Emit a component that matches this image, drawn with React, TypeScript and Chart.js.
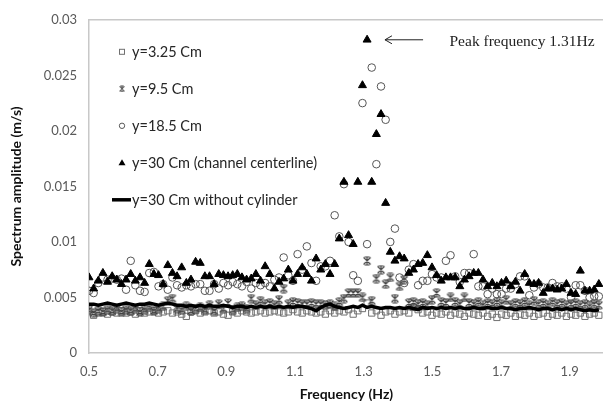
import React, { useEffect, useRef } from "react";
import { Chart, registerables } from "chart.js";

Chart.register(...registerables);

const frequencies = [
  0.5, 0.5135, 0.527, 0.5405, 0.554, 0.5675, 0.581, 0.5945, 0.608, 0.6215,
  0.635, 0.6485, 0.662, 0.6755, 0.689, 0.7025, 0.716, 0.7295, 0.743, 0.7565,
  0.77, 0.7835, 0.797, 0.8105, 0.824, 0.8375, 0.851, 0.8645, 0.878, 0.8915,
  0.905, 0.9185, 0.932, 0.9455, 0.959, 0.9725, 0.986, 0.9995, 1.013, 1.0265,
  1.04, 1.0535, 1.067, 1.0805, 1.094, 1.1075, 1.121, 1.1345, 1.148, 1.1615,
  1.175, 1.1885, 1.202, 1.2155, 1.229, 1.2425, 1.256, 1.2695, 1.283, 1.2965,
  1.31, 1.3235, 1.337, 1.3505, 1.364, 1.3775, 1.391, 1.4045, 1.418, 1.4315,
  1.445, 1.4585, 1.472, 1.4855, 1.499, 1.5125, 1.526, 1.5395, 1.553, 1.5665,
  1.58, 1.5935, 1.607, 1.6205, 1.634, 1.6475, 1.661, 1.6745, 1.688, 1.7015,
  1.715, 1.7285, 1.742, 1.7555, 1.769, 1.7825, 1.796, 1.8095, 1.823, 1.8365,
  1.85, 1.8635, 1.877, 1.8905, 1.904, 1.9175, 1.931, 1.9445, 1.958, 1.9715,
  1.985,
];

const ampY325 = [
  0.0037, 0.0034, 0.0036, 0.0037, 0.0035, 0.0037, 0.0036, 0.0038, 0.0036, 0.0037,
  0.0035, 0.0038, 0.0036, 0.0037, 0.0038, 0.0036, 0.0037, 0.0038, 0.0036, 0.0037,
  0.0035, 0.0033, 0.0037, 0.0038, 0.0036, 0.0037, 0.0038, 0.0036, 0.0037, 0.0035,
  0.0034, 0.0037, 0.0036, 0.0038, 0.0037, 0.0036, 0.0037, 0.0038, 0.0036, 0.0037,
  0.0038, 0.0037, 0.0036, 0.0037, 0.0039, 0.0037, 0.0036, 0.0038, 0.0037, 0.0036,
  0.0037, 0.0035, 0.0038, 0.0036, 0.0038, 0.0037, 0.0039, 0.0035, 0.0038, 0.004,
  0.0045, 0.0036, 0.0038, 0.0034, 0.0037, 0.0038, 0.0035, 0.0037, 0.0038, 0.0036,
  0.0041, 0.0039, 0.0036, 0.0037, 0.0034, 0.0036, 0.0035, 0.0037, 0.0034, 0.0036,
  0.0035, 0.0033, 0.0036, 0.0035, 0.0034, 0.0036, 0.0033, 0.0035, 0.0032, 0.0035,
  0.0034, 0.0036, 0.0033, 0.0035, 0.0034, 0.0036, 0.0033, 0.0035, 0.0036, 0.0033,
  0.0035, 0.0034, 0.0036, 0.0033, 0.0035, 0.0034, 0.0036, 0.0033, 0.0035, 0.0036,
  0.0034,
];

const ampY95 = [
  0.0039, 0.0036, 0.0038, 0.0037, 0.0039, 0.0038, 0.004, 0.0037, 0.0039, 0.0038,
  0.004, 0.0037, 0.0039, 0.0041, 0.0038, 0.004, 0.0042, 0.0047, 0.0049, 0.004,
  0.0039, 0.0042, 0.0038, 0.004, 0.0041, 0.0039, 0.0043, 0.0038, 0.0044, 0.004,
  0.0045, 0.0039, 0.0041, 0.0042, 0.004, 0.0049, 0.0043, 0.0047, 0.0044, 0.0045,
  0.0043, 0.0048, 0.0058, 0.0044, 0.0046, 0.0045, 0.0044, 0.0044, 0.0045, 0.0044,
  0.0044, 0.0043, 0.0044, 0.0042, 0.0046, 0.0049, 0.0054, 0.0054, 0.0054, 0.005,
  0.0083, 0.0047, 0.0067, 0.0075, 0.0062, 0.0068, 0.0049, 0.006, 0.0066, 0.0045,
  0.0046, 0.0044, 0.0045, 0.0043, 0.0048, 0.0054, 0.0046, 0.0045, 0.005, 0.0046,
  0.0044, 0.005, 0.0045, 0.0044, 0.0046, 0.0043, 0.0045, 0.0044, 0.0046, 0.0044,
  0.0048, 0.0043, 0.0045, 0.0044, 0.0046, 0.0043, 0.0047, 0.0044, 0.0045, 0.0043,
  0.0046, 0.0044, 0.0045, 0.0043, 0.0044, 0.0045, 0.0043, 0.0044, 0.0042, 0.0044,
  0.0043,
];

const ampY185 = [
  0.0056, 0.0054, 0.0063, 0.0068, 0.0066, 0.0067, 0.0066, 0.0067, 0.0057, 0.0083,
  0.0061, 0.0056, 0.0055, 0.0072, 0.0073, 0.006, 0.0062, 0.0057, 0.0068, 0.0061,
  0.0059, 0.0061, 0.006, 0.0062, 0.0062, 0.0056, 0.0056, 0.0062, 0.0058, 0.0063,
  0.0061, 0.0064, 0.0062, 0.006, 0.0064, 0.0058, 0.0063, 0.0061, 0.0063, 0.006,
  0.0066, 0.0068, 0.0086, 0.007, 0.0065, 0.0089, 0.0075, 0.0096, 0.0081, 0.0065,
  0.0078, 0.0078, 0.0083, 0.0124, 0.0105, 0.0152, 0.01, 0.007, 0.0065, 0.0225,
  0.0098, 0.0257, 0.017, 0.024, 0.021, 0.01, 0.0112, 0.0068, 0.0063, 0.0075,
  0.008, 0.0061, 0.0065, 0.0065, 0.0071, 0.0068, 0.0068, 0.0083, 0.0088, 0.0069,
  0.0064, 0.0072, 0.0072, 0.0089, 0.006, 0.006, 0.0053, 0.0058, 0.0053, 0.0053,
  0.0058, 0.0058, 0.0062, 0.0069, 0.0069, 0.0052, 0.0059, 0.0062, 0.0059, 0.0059,
  0.0063, 0.006, 0.006, 0.0058, 0.005, 0.0061, 0.0061, 0.0056, 0.005, 0.0051,
  0.0051,
];

const ampY30 = [
  0.0068, 0.0058, 0.0065, 0.0072, 0.0064, 0.0069, 0.0066, 0.0062, 0.0066, 0.0071,
  0.0065, 0.0068, 0.0063, 0.008, 0.0071, 0.007, 0.0062, 0.0079, 0.0072, 0.0069,
  0.0077, 0.0063, 0.0066, 0.0082, 0.0081, 0.0069, 0.0069, 0.0062, 0.0071, 0.007,
  0.0069, 0.007, 0.0071, 0.0068, 0.0066, 0.0067, 0.0071, 0.0065, 0.0078, 0.0071,
  0.0058, 0.0064, 0.0067, 0.0075, 0.0065, 0.0071, 0.0077, 0.0071, 0.0065, 0.0085,
  0.0075, 0.008, 0.0071, 0.008, 0.0103, 0.0154, 0.0106, 0.0098, 0.0154, 0.0241,
  0.0282, 0.0154, 0.0197, 0.0215, 0.0135, 0.0091, 0.0083, 0.0087, 0.0085, 0.0072,
  0.0075, 0.008, 0.0081, 0.0088, 0.0077, 0.007, 0.0065, 0.0068, 0.0068, 0.0068,
  0.006, 0.0066, 0.0069, 0.0072, 0.0072, 0.0066, 0.006, 0.0063, 0.006, 0.0063,
  0.0065, 0.006, 0.0064, 0.0056, 0.0071, 0.0063, 0.0062, 0.0063, 0.0054, 0.0058,
  0.0058, 0.0057, 0.0058, 0.0062, 0.0054, 0.0053, 0.0074, 0.0056, 0.0056, 0.0057,
  0.0062,
];

const ampY30NoCylinder = [
  0.0044, 0.0044, 0.0043, 0.0044, 0.0045, 0.0044, 0.0043, 0.0044, 0.0045, 0.0044,
  0.0043, 0.0044, 0.0044, 0.0045, 0.0044, 0.0043, 0.0044, 0.0045, 0.0044, 0.0043,
  0.0043, 0.0042, 0.0043, 0.0042, 0.0043, 0.0042, 0.0043, 0.0042, 0.0042, 0.0043,
  0.0042, 0.0041, 0.0042, 0.0042, 0.0041, 0.0042, 0.0041, 0.0042, 0.0041, 0.0042,
  0.0041, 0.0042, 0.0041, 0.0042, 0.0041, 0.0042, 0.0042, 0.0041, 0.004, 0.0038,
  0.0041, 0.0043, 0.0044, 0.0042, 0.0041, 0.004, 0.0041, 0.0042, 0.0041, 0.0043,
  0.0041, 0.0042, 0.0041, 0.004, 0.0041, 0.0041, 0.004, 0.0041, 0.004, 0.0041,
  0.004, 0.0039, 0.0041, 0.004, 0.0041, 0.004, 0.0041, 0.004, 0.0041, 0.004,
  0.0041, 0.004, 0.004, 0.0041, 0.004, 0.004, 0.0041, 0.004, 0.004, 0.0041,
  0.004, 0.004, 0.0039, 0.004, 0.004, 0.0041, 0.004, 0.0039, 0.004, 0.004,
  0.0039, 0.004, 0.0039, 0.004, 0.0039, 0.004, 0.0039, 0.0038, 0.0039, 0.0038,
  0.0039,
];

const seriesLabels = [
  "y=3.25 Cm",
  "y=9.5 Cm",
  "y=18.5 Cm",
  "y=30 Cm (channel centerline)",
  "y=30 Cm without cylinder",
];

const xTickValues = [0.5, 0.7, 0.9, 1.1, 1.3, 1.5, 1.7, 1.9];
const xTickLabels = ["0.5", "0.7", "0.9", "1.1", "1.3", "1.5", "1.7", "1.9"];
const yTickValues = [0, 0.005, 0.01, 0.015, 0.02, 0.025, 0.03];
const yTickLabels = ["0", "0.005", "0.01", "0.015", "0.02", "0.025", "0.03"];

const xAxisTitle = "Frequency (Hz)";
const yAxisTitle = "Spectrum amplitude (m/s)";
const peakText = "Peak frequency 1.31Hz";
const peakAmplitude = 0.0282;

// annotation placement (in data units)
const arrowTipFreq = 1.362;
const arrowTailFreq = 1.473;
const peakTextFreq = 1.55;

const FONT = "Lato, 'Open Sans', sans-serif";

function makeStar(color: string) {
  const c = document.createElement("canvas");
  c.width = 10;
  c.height = 10;
  const g = c.getContext("2d")!;
  g.strokeStyle = color;
  g.lineWidth = 1.1;
  g.beginPath();
  g.moveTo(1.5, 1.5);
  g.lineTo(8.5, 8.5);
  g.moveTo(8.5, 1.5);
  g.lineTo(1.5, 8.5);
  g.moveTo(5, 1);
  g.lineTo(5, 9);
  g.moveTo(2.5, 1);
  g.lineTo(7.5, 1);
  g.moveTo(2.5, 9);
  g.lineTo(7.5, 9);
  g.stroke();
  return c;
}

function drawLegendMarker(ctx: CanvasRenderingContext2D, i: number, x: number, y: number, star: HTMLCanvasElement) {
  ctx.save();
  ctx.lineWidth = 1;
  if (i === 0) {
    ctx.strokeStyle = "#707070";
    ctx.strokeRect(x - 2.5, y - 2.5, 5, 5);
  } else if (i === 1) {
    ctx.drawImage(star, x - 3.5, y - 3.5, 7, 7);
  } else if (i === 2) {
    ctx.strokeStyle = "#5a5a5a";
    ctx.beginPath();
    ctx.arc(x, y, 2.7, 0, Math.PI * 2);
    ctx.stroke();
  } else if (i === 3) {
    ctx.fillStyle = "#000";
    ctx.beginPath();
    ctx.moveTo(x, y - 3.5);
    ctx.lineTo(x + 3.5, y + 2.5);
    ctx.lineTo(x - 3.5, y + 2.5);
    ctx.closePath();
    ctx.fill();
  } else {
    ctx.strokeStyle = "#000";
    ctx.lineWidth = 3.5;
    ctx.beginPath();
    ctx.moveTo(x - 10, y);
    ctx.lineTo(x + 9, y);
    ctx.stroke();
  }
  ctx.restore();
}

export default function App() {
  const canvasRef = useRef<HTMLCanvasElement | null>(null);

  useEffect(() => {
    document.body.style.margin = "0";
    const canvas = canvasRef.current;
    if (!canvas) return;
    const star = makeStar("#404040");

    const framePlugin = {
      id: "frameTop",
      beforeDatasetsDraw(chart: any) {
        const { ctx, chartArea } = chart;
        ctx.save();
        ctx.strokeStyle = "#c8c8c8";
        ctx.lineWidth = 1.5;
        ctx.beginPath();
        ctx.moveTo(chartArea.left, chartArea.top);
        ctx.lineTo(chartArea.right, chartArea.top);
        ctx.stroke();
        ctx.restore();
      },
    };

    const legendPlugin = {
      id: "insideLegend",
      afterDraw(chart: any) {
        const { ctx, chartArea } = chart;
        ctx.save();
        ctx.font = `14.5px ${FONT}`;
        ctx.fillStyle = "#262626";
        ctx.textBaseline = "middle";
        ctx.textAlign = "left";
        seriesLabels.forEach((label, i) => {
          const y = chartArea.top + 32 + i * 37;
          const mx = chartArea.left + 33;
          drawLegendMarker(ctx, i, mx, y, star);
          ctx.fillText(label, chartArea.left + 43, y + 1);
        });
        ctx.restore();
      },
    };

    const annotationPlugin = {
      id: "peakAnnotation",
      afterDraw(chart: any) {
        const { ctx } = chart;
        const xs = chart.scales.x;
        const ys = chart.scales.y;
        const y = ys.getPixelForValue(peakAmplitude);
        const tip = xs.getPixelForValue(arrowTipFreq);
        const tail = xs.getPixelForValue(arrowTailFreq);
        ctx.save();
        ctx.strokeStyle = "#222";
        ctx.lineWidth = 1;
        ctx.beginPath();
        ctx.moveTo(tail, y);
        ctx.lineTo(tip, y);
        ctx.moveTo(tip + 7, y - 4);
        ctx.lineTo(tip, y);
        ctx.lineTo(tip + 7, y + 4);
        ctx.stroke();
        ctx.font = "15.5px 'Liberation Serif', 'DejaVu Serif', serif";
        ctx.fillStyle = "#222";
        ctx.textBaseline = "middle";
        ctx.textAlign = "left";
        ctx.fillText(peakText, xs.getPixelForValue(peakTextFreq), y + 2);
        ctx.restore();
      },
    };

    const toPoints = (vals: number[]) => frequencies.map((f, i) => ({ x: f, y: vals[i] }));

    const chart = new Chart(canvas, {
      type: "scatter",
      data: {
        datasets: [
          {
            label: seriesLabels[0],
            data: toPoints(ampY325),
            pointStyle: "rect",
            pointRadius: 4.4,
            borderColor: "#707070",
            backgroundColor: "rgba(255,255,255,0)",
            borderWidth: 1,
            order: 4,
          },
          {
            label: seriesLabels[1],
            data: toPoints(ampY95),
            pointStyle: star as any,
            pointRadius: 5,
            borderColor: "#404040",
            backgroundColor: "rgba(255,255,255,0)",
            borderWidth: 1,
            order: 3,
          },
          {
            label: seriesLabels[2],
            data: toPoints(ampY185),
            pointStyle: "circle",
            pointRadius: 3.8,
            borderColor: "#555555",
            backgroundColor: "rgba(255,255,255,0)",
            borderWidth: 1,
            order: 2,
          },
          {
            label: seriesLabels[3],
            data: toPoints(ampY30),
            pointStyle: "triangle",
            pointRadius: 4.6,
            borderColor: "#000",
            backgroundColor: "#000",
            borderWidth: 1,
            order: 1,
          },
          {
            label: seriesLabels[4],
            data: toPoints(ampY30NoCylinder),
            showLine: true,
            pointRadius: 0,
            borderColor: "#000",
            backgroundColor: "#000",
            borderWidth: 3.5,
            tension: 0,
            order: 0,
          } as any,
        ],
      },
      options: {
        responsive: false,
        animation: false,
        events: [],
        layout: { padding: { top: 15, left: 0, right: 0, bottom: 0 } },
        plugins: {
          legend: { display: false },
          tooltip: { enabled: false },
        },
        scales: {
          x: {
            type: "linear",
            min: 0.5,
            max: 2.0,
            afterFit: (scale: any) => {
              scale.height = 48;
            },
            afterBuildTicks: (scale: any) => {
              scale.ticks = xTickValues.map((v) => ({ value: v }));
            },
            grid: { display: false, drawTicks: false },
            border: { display: true, color: "#c8c8c8", width: 1.5 },
            ticks: {
              padding: 11,
              color: "#595959",
              font: { family: FONT, size: 13 },
              callback: (v: any) => {
                const idx = xTickValues.findIndex((t) => Math.abs(t - v) < 1e-9);
                return idx >= 0 ? xTickLabels[idx] : "";
              },
            },
            title: {
              display: true,
              text: xAxisTitle,
              color: "#111",
              font: { family: FONT, size: 14, weight: "bold" },
              padding: { top: 0, bottom: -2 },
            },
          },
          y: {
            type: "linear",
            min: 0,
            max: 0.03,
            afterFit: (scale: any) => {
              scale.width = 89;
            },
            afterBuildTicks: (scale: any) => {
              scale.ticks = yTickValues.map((v) => ({ value: v }));
            },
            grid: { display: false, drawTicks: false },
            border: { display: true, color: "#c8c8c8", width: 1.5 },
            ticks: {
              padding: 12,
              color: "#595959",
              font: { family: FONT, size: 13 },
              callback: (v: any) => {
                const idx = yTickValues.findIndex((t) => Math.abs(t - v) < 1e-9);
                return idx >= 0 ? yTickLabels[idx] : "";
              },
            },
            title: {
              display: true,
              text: yAxisTitle,
              color: "#111",
              font: { family: FONT, size: 14, weight: "bold" },
              padding: { top: 8, bottom: 0 },
            },
          },
        },
      },
      plugins: [framePlugin, legendPlugin, annotationPlugin],
    });

    return () => {
      chart.destroy();
    };
  }, []);

  return (
    <div style={{ width: 603, height: 401, overflow: "hidden", background: "#fff" }}>
      <canvas ref={canvasRef} width={610} height={401} style={{ display: "block" }} />
    </div>
  );
}
